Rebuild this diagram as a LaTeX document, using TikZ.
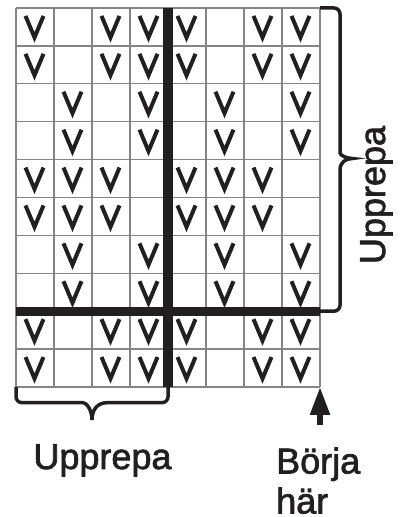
\documentclass[tikz,border=0pt]{standalone}
\usepackage{fontspec}
\setmainfont{Liberation Sans}
\newfontfamily\chartfont[FakeBold=2]{Liberation Sans}
\usetikzlibrary{arrows.meta}
\definecolor{Ink}{HTML}{231F20}
\definecolor{GridGray}{HTML}{858585}

\begin{document}
\begin{tikzpicture}[x=1pt,y=1pt,
    gridline/.style={draw=GridGray,line width=1.3pt},
    heavy/.style={draw=Ink,line width=9.3pt},
    stitch/.style={draw=Ink,line width=4pt,line join=miter},
    brace/.style={draw=Ink,line width=3.5pt},
    chartlabel/.style={font=\chartfont\fontsize{36}{40}\selectfont,text=Ink,inner sep=0pt}]
  \useasboundingbox (0,0) rectangle (407,517);
  % chart grid, 8 x 10 cells
  \foreach \i in {0,...,8}
    \draw[gridline] ({16+38*\i},130) -- ({16+38*\i},509);
  \foreach \j in {0,...,10}
    \draw[gridline] (16,{130+37.9*\j}) -- (320,{130+37.9*\j});
  % stitches
  \foreach \r in {1,2,9,10}
    \foreach \c in {1,3,4,5,7,8}
      \draw[stitch,shift={({16+38*(\c-0.5)},{509-37.9*(\r-0.5)})}]
        (-9.5,11) -- (-0.5,-10.5) -- (8.5,11);
  \foreach \r in {3,4,7,8}
    \foreach \c in {2,4,6,8}
      \draw[stitch,shift={({16+38*(\c-0.5)},{509-37.9*(\r-0.5)})}]
        (-9.5,11) -- (-0.5,-10.5) -- (8.5,11);
  \foreach \r in {5,6}
    \foreach \c in {1,2,3,5,6,7}
      \draw[stitch,shift={({16+38*(\c-0.5)},{509-37.9*(\r-0.5)})}]
        (-9.5,11) -- (-0.5,-10.5) -- (8.5,11);
  % repeat lines
  \draw[heavy] (168,509) -- (168,130);
  \draw[heavy] (16,205.8) -- (320,205.8);
  % braces
  \draw[brace] (320,509) [rounded corners=6pt] -- (340,509) -- (340,370)
    [sharp corners] .. controls (340,362) and (346,358.5) .. (352.5,358.5)
    .. controls (346,358.5) and (340,355) .. (340,347)
    [rounded corners=6pt] -- (340,205.8) -- (320,205.8);
  \draw[brace] (16,130) [rounded corners=6pt] -- (16,114.3) -- (77,114.3)
    [sharp corners] .. controls (86,114.3) and (92,108) .. (92,97)
    .. controls (92,108) and (98,114.3) .. (107,114.3)
    [rounded corners=6pt] -- (168,114.3) -- (168,130);
  % labels
  \node[chartlabel,rotate=90,anchor=base] (repeatV) at (385,322) {Upprepa};
  \node[chartlabel,anchor=base] (repeatH) at (102.5,48) {Upprepa};
  \node[chartlabel,anchor=base west,align=left] (startHere) at (276,3.5) {Börja\\här};
  % start arrow
  \coordinate (tail) at (320,92);
  \coordinate (chartCorner) at (320,130);
  \draw[Ink,line width=5.5pt,-{Triangle[width=19pt,length=28pt]}] (tail) -- (chartCorner);
\end{tikzpicture}
\end{document}
